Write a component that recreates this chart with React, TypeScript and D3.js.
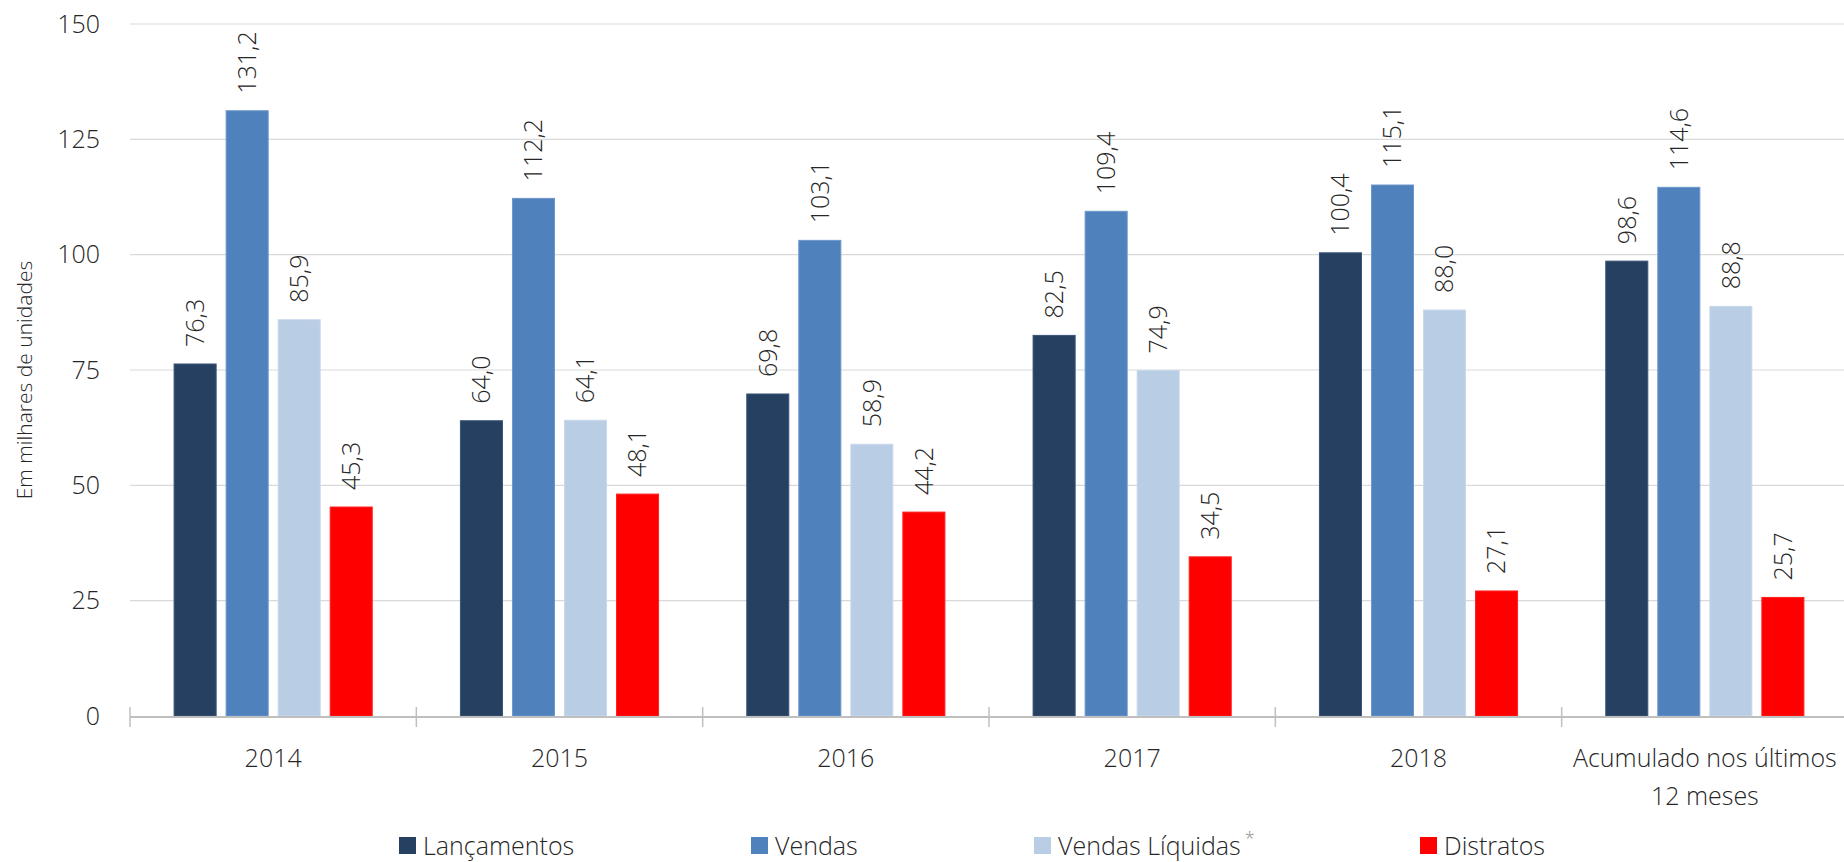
import React, { useEffect, useRef } from 'react';
import * as d3 from 'd3';

const categories = ['2014', '2015', '2016', '2017', '2018', 'Acumulado nos últimos|12 meses'];
const seriesNames = ['Lançamentos', 'Vendas', 'Vendas Líquidas', 'Distratos'];
const lancamentos = [76.3, 64.0, 69.8, 82.5, 100.4, 98.6];
const vendas = [131.2, 112.2, 103.1, 109.4, 115.1, 114.6];
const vendasLiquidas = [85.9, 64.1, 58.9, 74.9, 88.0, 88.8];
const distratos = [45.3, 48.1, 44.2, 34.5, 27.1, 25.7];
const yTicks = [0, 25, 50, 75, 100, 125, 150];
const colors = ['#264061', '#4F81BD', '#B9CDE5', '#FF0000'];
const strokes = ['#3a5478', '#6d97cc', '#c9d9ec', '#ff2020'];

const FONT = '"Open Sans", "Noto Sans", sans-serif';
const TEXT = '#262626';

export default function App() {
  const ref = useRef<SVGSVGElement>(null);

  useEffect(() => {
    if (!ref.current) return;
    const svg = d3.select(ref.current);
    svg.selectAll('*').remove();

    const W = 1844, H = 862;
    const left = 130, right = 1848, top = 24, bottom = 716;
    const series = [lancamentos, vendas, vendasLiquidas, distratos];

    const x0 = d3.scaleBand<string>().domain(categories).range([left, right]).paddingInner(0).paddingOuter(0);
    const inner = x0.bandwidth();
    const x1 = d3.scaleBand<string>().domain(seriesNames).range([inner * 0.154, inner * 0.846]).paddingInner(0.192).paddingOuter(0);
    const y = d3.scaleLinear().domain([0, 150]).range([bottom, top]);

    svg.attr('width', W).attr('height', H).style('font-family', FONT);

    // gridlines
    svg.append('g').selectAll('line').data(yTicks.filter(t => t > 0)).enter().append('line')
      .attr('x1', left).attr('x2', W).attr('y1', d => y(d)).attr('y2', d => y(d))
      .attr('stroke', '#D9D9D9').attr('stroke-width', 1.2);

    // y tick labels
    svg.append('g').selectAll('text').data(yTicks).enter().append('text')
      .attr('x', 100).attr('y', d => y(d)).attr('dy', '0.35em')
      .attr('text-anchor', 'end').attr('font-size', 25).attr('font-weight', 300).attr('fill', TEXT)
      .text(d => String(d));

    // y title
    svg.append('text')
      .attr('transform', `translate(32,380) rotate(-90)`)
      .attr('text-anchor', 'middle').attr('font-size', 21).attr('font-weight', 300).attr('fill', TEXT)
      .text('Em milhares de unidades');

    // bars
    const groups = svg.append('g').selectAll('g').data(categories).enter().append('g')
      .attr('transform', d => `translate(${x0(d)},0)`);

    seriesNames.forEach((name, si) => {
      groups.append('rect')
        .attr('x', x1(name)!)
        .attr('width', x1.bandwidth())
        .attr('y', (_, ci) => y(series[si][ci]))
        .attr('height', (_, ci) => bottom - y(series[si][ci]))
        .attr('fill', colors[si])
        .attr('stroke', strokes[si]).attr('stroke-width', 1);

      groups.append('text')
        .attr('transform', (_, ci) => `translate(${x1(name)! + x1.bandwidth() / 2},${y(series[si][ci]) - 17}) rotate(-90)`)
        .attr('dy', '0.35em')
        .attr('text-anchor', 'start').attr('font-size', 25).attr('font-weight', 300).attr('fill', TEXT)
        .text((_, ci) => series[si][ci].toFixed(1).replace('.', ','));
    });

    // x axis
    svg.append('line').attr('x1', left).attr('x2', W).attr('y1', bottom + 1).attr('y2', bottom + 1)
      .attr('stroke', '#BFBFBF').attr('stroke-width', 2);
    svg.append('g').selectAll('line').data(categories).enter().append('line')
      .attr('x1', d => x0(d)!).attr('x2', d => x0(d)!)
      .attr('y1', bottom - 9).attr('y2', bottom + 11)
      .attr('stroke', '#BFBFBF').attr('stroke-width', 1.5);

    const xl = svg.append('g').selectAll('text').data(categories).enter().append('text')
      .attr('x', d => x0(d)! + inner / 2).attr('y', 767)
      .attr('text-anchor', 'middle').attr('font-size', 25).attr('font-weight', 300).attr('fill', TEXT);
    xl.each(function (d) {
      const parts = d.split('|');
      parts.forEach((p, i) => {
        d3.select(this).append('tspan').attr('x', x0(d)! + inner / 2).attr('dy', i === 0 ? 0 : 38).text(p);
      });
    });

    // legend
    const legendX = [399, 751, 1034, 1420];
    const leg = svg.append('g').selectAll('g').data(seriesNames).enter().append('g')
      .attr('transform', (_, i) => `translate(${legendX[i]},837)`);
    leg.append('rect').attr('width', 17).attr('height', 17).attr('fill', (_, i) => colors[i]);
    leg.append('text').attr('x', 24).attr('y', 17.5)
      .attr('font-size', 25).attr('font-weight', 300).attr('fill', TEXT)
      .text(d => d)
      .filter((_, i) => i === 2)
      .append('tspan').attr('dx', 4).attr('dy', -10).attr('font-size', 18).attr('fill', '#888').text('*');
  }, []);

  return (
    <div style={{ position: 'fixed', left: 0, top: 0, width: 1844, height: 862, background: '#fff', overflow: 'hidden' }}>
      <svg ref={ref} />
    </div>
  );
}
